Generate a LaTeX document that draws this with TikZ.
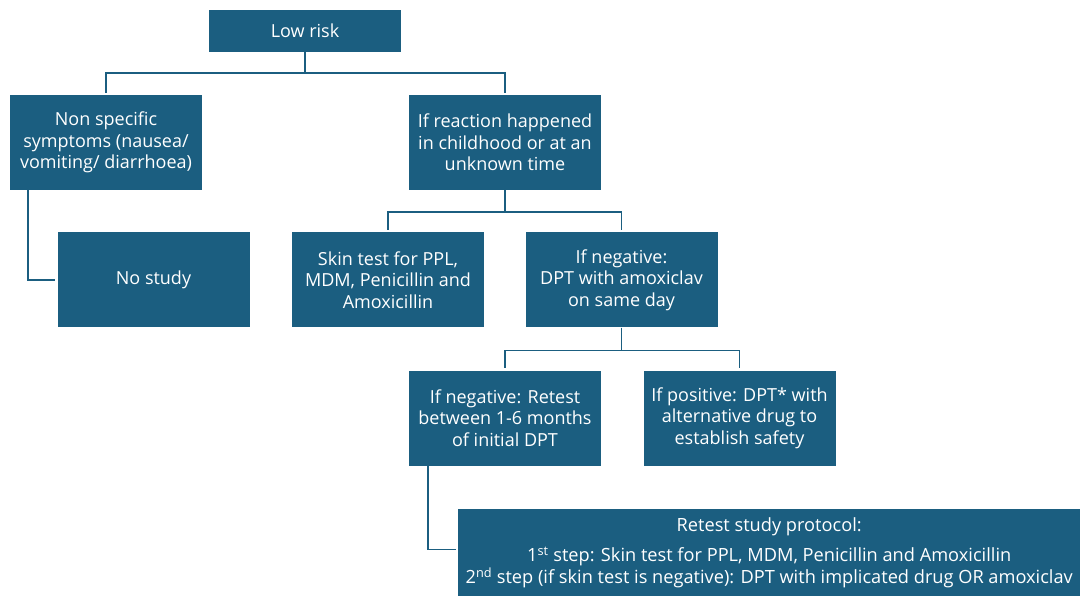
\documentclass[tikz,border=0pt]{standalone}
\usepackage{fontspec}
\setmainfont{Open Sans}
\usepackage{tikz}
\usetikzlibrary{positioning}
\definecolor{boxblue}{HTML}{1B5E80}
\tikzset{>=latex}

\begin{document}
\begin{tikzpicture}[x=1pt, y=-1pt]

        % boxes are 192 x 95, lines are elbows from box to box
        \tikzstyle{every node}=[fill=boxblue, text=white, align=center, inner sep=0pt,
                font=\fontsize{18}{21.5}\selectfont]
        \tikzset{box/.style={minimum width=192pt, minimum height=95pt}}
        \tikzset{conn/.style={draw=boxblue, line width=1.4pt, shorten >=2pt}}
        \useasboundingbox (0,0) rectangle (1080,596);

        \node[minimum width=192pt, minimum height=42pt] (low) at (305, 31) {Low risk};
        \node[box] (nonspec) at (106, 142.5) {Non specific\\symptoms (nausea/\\vomiting/ diarrhoea)};
        \node[box] (react) at (505, 142.5) {If reaction happened\\in childhood or at an\\unknown time};
        \node[box] (nostudy) at (153.5, 280) {No study};
        \node[box] (skin) at (388, 280) {Skin test for PPL,\\MDM, Penicillin and\\Amoxicillin};
        \node[box] (neg) at (621.5, 280) {If negative:\\DPT with amoxiclav\\on same day};
        \node[box] (retest) at (505, 418) {If negative: Retest\\between 1-6 months\\of initial DPT};
        \node[box] (pos) at (739.5, 418) {If positive: DPT* with\\alternative drug to\\establish safety};
        \node[minimum width=622pt, minimum height=87pt, anchor=north west,
                font=\fontsize{18.2}{22}\selectfont] (proto) at (458, 509)
                {Retest study protocol:\\[8pt]
                 1\textsuperscript{st} step: Skin test for PPL, MDM, Penicillin and Amoxicillin\\
                 2\textsuperscript{nd} step (if skin test is negative): DPT with implicated drug OR amoxiclav};

        \draw[conn] (low.south) -- +(0,21) -| (nonspec.north);
        \draw[conn] (low.south) -- +(0,21) -| (react.north);
        \draw[conn] ([xshift=18pt]nonspec.south west) |- (nostudy.west);
        \draw[conn] (react.south) -- +(0,22) -| (skin.north);
        \draw[conn] (react.south) -- +(0,22) -| (neg.north);
        \draw[conn] (neg.south) -- +(0,23) -| (retest.north);
        \draw[conn] (neg.south) -- +(0,23) -| (pos.north);
        \draw[conn] ([xshift=19pt]retest.south west) |- ([yshift=3pt]proto.west);
\end{tikzpicture}
\end{document}
